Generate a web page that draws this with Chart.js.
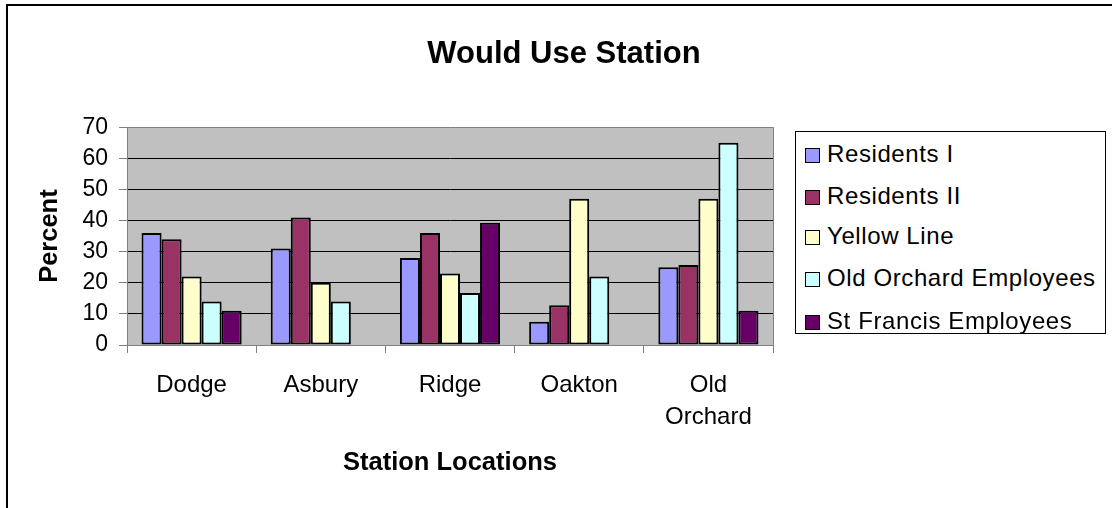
<!DOCTYPE html>
<html>
<head>
<meta charset="utf-8">
<script src="https://cdn.jsdelivr.net/npm/chart.js@4/dist/chart.umd.min.js"></script>
<style>
  body { margin: 0; background: #fff; overflow: hidden; }
  #wrap { position: relative; width: 1112px; height: 508px; overflow: hidden; }
  #frame { position: absolute; left: 6px; top: 4px; width: 1200px; height: 600px; border-left: 2px solid #000; border-top: 2px solid #000; }
  #chart { position: absolute; left: 0; top: 0; }
  #legend { position: absolute; left: 795px; top: 131px; width: 309px; height: 201px; border: 1px solid #000; background: #fff;
            font-family: Arial, "Liberation Sans", sans-serif; font-size: 24px; letter-spacing: 0.6px; color: #000; }
  .item { position: absolute; left: 9px; height: 30px; line-height: 30px; white-space: nowrap; }
  .sw { display: inline-block; width: 13px; height: 13px; border: 1px solid #000; margin-right: 7px; vertical-align: -1px; }
</style>
</head>
<body>
<div id="wrap">
  <div id="frame"></div>
  <canvas id="chart" width="1112" height="508"></canvas>
  <div id="legend"></div>
</div>
<script>
const stations = ['Dodge', 'Asbury', 'Ridge', 'Oakton', ['Old', 'Orchard']];
const residentsI = [36, 31, 28, 7.5, 25];
const residentsII = [34, 41, 36, 12.8, 25.7];
const yellowLine = [22, 20, 23, 47, 47];
const oldOrchardEmp = [14, 14, 16.7, 22, 65];
const stFrancisEmp = [11, 0, 39.3, 0, 11];
const yTicks = [0, 10, 20, 30, 40, 50, 60, 70];

const seriesNames = ['Residents I', 'Residents II', 'Yellow Line', 'Old Orchard Employees', 'St Francis Employees'];
const seriesColors = ['#9999FF', '#993366', '#FFFFCC', '#CCFFFF', '#660066'];
const seriesData = [residentsI, residentsII, yellowLine, oldOrchardEmp, stFrancisEmp];

const FONT = 'Arial, "Liberation Sans", sans-serif';

// grey plot area + right border, like the old excel look
const plotBg = {
  id: 'plotBg',
  beforeDraw(chart) {
    const {ctx, chartArea: a} = chart;
    ctx.save();
    ctx.fillStyle = '#C0C0C0';
    ctx.fillRect(a.left, a.top, a.right - a.left, a.bottom - a.top);
    ctx.restore();
  },
  afterDraw(chart) {
    const {ctx, chartArea: a} = chart;
    ctx.save();
    ctx.strokeStyle = '#808080';
    ctx.lineWidth = 1;
    ctx.beginPath();
    ctx.moveTo(a.right + 0.5, a.top);
    ctx.lineTo(a.right + 0.5, a.bottom);
    ctx.stroke();
    ctx.restore();
  }
};

const datasets = seriesNames.map((name, i) => ({
  label: name,
  data: seriesData[i],
  backgroundColor: seriesColors[i],
  borderColor: '#000',
  borderWidth: 2,
  borderSkipped: false
}));

new Chart(document.getElementById('chart'), {
  type: 'bar',
  data: { labels: stations, datasets: datasets },
  plugins: [plotBg],
  options: {
    responsive: false,
    animation: false,
    events: [],
    datasets: { bar: { categoryPercentage: 0.775, barPercentage: 1 } },
    layout: { padding: { left: 16, top: 0, right: 0, bottom: 0 } },
    plugins: {
      legend: { display: false },
      tooltip: { enabled: false },
      title: {
        display: true,
        text: 'Would Use Station',
        color: '#000',
        font: { family: FONT, size: 31, weight: 'bold', lineHeight: 1.2 },
        padding: { top: 36, bottom: 54 }
      }
    },
    scales: {
      x: {
        afterFit: (s) => { s.height = 163; },
        grid: { offset: true, drawOnChartArea: false, tickLength: 8, color: '#808080' },
        border: { color: '#808080', width: 1 },
        ticks: { color: '#000', padding: 16, maxRotation: 0, font: { family: FONT, size: 24, lineHeight: 1.333 } },
        title: {
          display: true, text: 'Station Locations', color: '#000',
          font: { family: FONT, size: 25.5, weight: 'bold', lineHeight: 1.2 },
          padding: { top: 0, bottom: 30 }
        }
      },
      y: {
        min: 0, max: 70,
        afterFit: (s) => { s.width = 111; },
        afterBuildTicks: (s) => { s.ticks = yTicks.map(v => ({ value: v })); },
        grid: {
          color: (c) => (c.tick && c.tick.value === 70 ? '#808080' : '#000'),
          tickColor: '#808080', tickLength: 8, lineWidth: 1
        },
        border: { color: '#808080', width: 1 },
        ticks: { color: '#000', padding: 11, font: { family: FONT, size: 23 } },
        title: {
          display: true, text: 'Percent', color: '#000',
          font: { family: FONT, size: 25.5, weight: 'bold', lineHeight: 1.2 },
          padding: { top: 19, bottom: 0 }
        }
      },
      // empty right-hand slot where the legend box sits
      side: {
        position: 'right',
        afterFit: (s) => { s.width = 339; },
        grid: { display: false },
        border: { display: false },
        ticks: { display: false }
      }
    }
  }
});

// legend box on the right
const legendEl = document.getElementById('legend');
const rowCenters = [22, 64, 104, 146, 189];
seriesNames.forEach((name, i) => {
  const row = document.createElement('div');
  row.className = 'item';
  row.style.top = (rowCenters[i] - 15) + 'px';
  const sw = document.createElement('span');
  sw.className = 'sw';
  sw.style.background = seriesColors[i];
  row.appendChild(sw);
  row.appendChild(document.createTextNode(name));
  legendEl.appendChild(row);
});
</script>
</body>
</html>
